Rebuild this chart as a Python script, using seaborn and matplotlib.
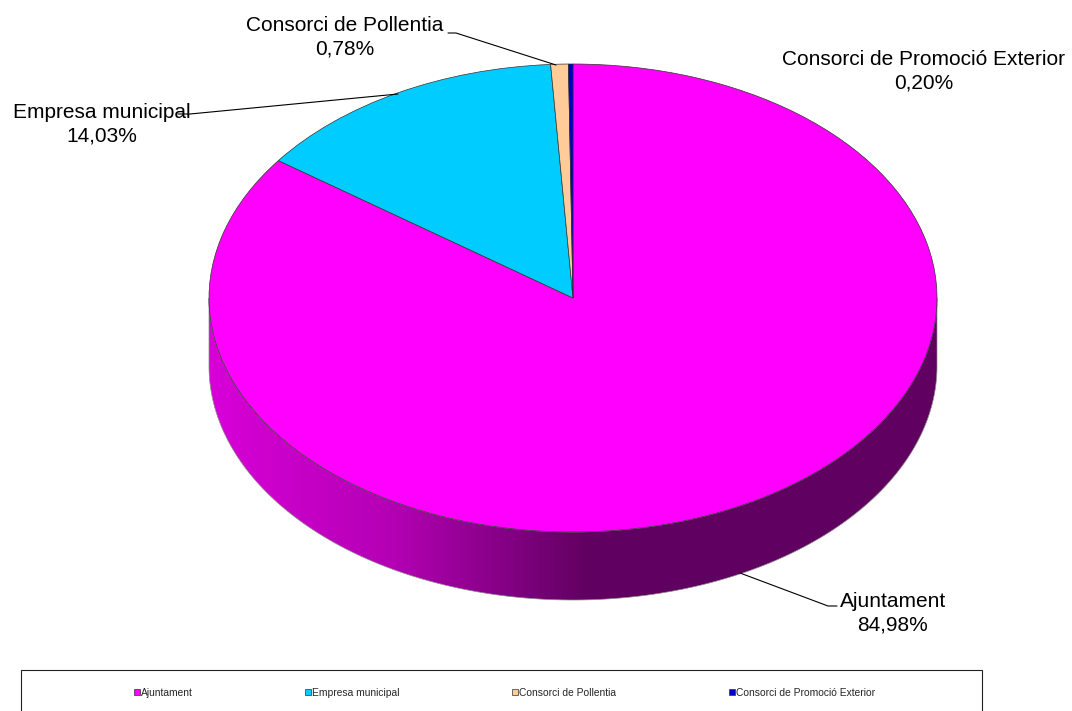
import numpy as np
import seaborn as sns
import matplotlib.pyplot as plt
from matplotlib.colors import LinearSegmentedColormap
from matplotlib.patches import Polygon, Rectangle

# data
names  = ["Ajuntament", "Empresa municipal", "Consorci de Pollentia", "Consorci de Promoció Exterior"]
values = [84.98, 14.03, 0.78, 0.20]
colors = ["#ff00ff", "#00ccff", "#ffcc99", "#0000cc"]

# pie geometry in pixels of the 1072x711 picture
CX, CY = 573, 298
RX, RY = 364, 234
DEPTH  = 68 / RY


def px(x, y):
    return (x - CX) / RX, (CY - y) / RY


sns.set_theme(style="white")
plt.rcParams["font.family"] = ["Liberation Sans", "DejaVu Sans"]

fig = plt.figure(figsize=(10.72, 7.11), dpi=100, facecolor="white")
ax = fig.add_axes([0, 0, 1, 1])

# side wall of the 3D pie, shaded left to right
theta = np.linspace(np.pi, 2 * np.pi, 300)
x_low, y_low = np.cos(theta), np.sin(theta)
wall_xy = np.r_[np.c_[x_low, y_low], np.c_[x_low[::-1], y_low[::-1] - DEPTH]]
wall = Polygon(wall_xy, closed=True, facecolor="none", edgecolor="#8a8a8a", lw=0.5, zorder=1)
ax.add_patch(wall)
shade = LinearSegmentedColormap.from_list(
    "wall", [(0, "#d800d8"), (0.25, "#b400b4"), (0.523, "#600060"), (1, "#600060")])
grad = ax.imshow(np.linspace(0, 1, 512)[None, :], cmap=shade, aspect="auto",
                 extent=(-1, 1, -1 - DEPTH, 0), zorder=0.5)
grad.set_clip_path(wall)

# top of the pie
wedges, _ = ax.pie(values, colors=colors, startangle=90, counterclock=False, radius=1,
                   wedgeprops={"edgecolor": "#333333", "linewidth": 0.5, "zorder": 2})

ax.set_aspect("auto")
ax.set_xlim(px(0, 0)[0], px(1072, 0)[0])
ax.set_ylim(px(0, 711)[1], px(0, 0)[1])
ax.axis("off")

# data labels and leader lines
label_pos = [(893, 613), (102, 124), (345, 37), (924, 71.5)]
leaders = [
    [(740, 573), (828, 606), (837, 606)],
    [(398, 94), (190, 114), (178, 114)],
    [(556, 65), (456, 33), (448, 33)],
    None,
]
for name, val, pos, line in zip(names, values, label_pos, leaders):
    txt = f"{name}\n{val:.2f}%".replace(".", ",")
    ax.text(*px(*pos), txt, ha="center", va="center", fontsize=15,
            color="black", linespacing=1.3, zorder=5)
    if line:
        pts = np.array([px(*p) for p in line])
        ax.plot(pts[:, 0], pts[:, 1], color="black", lw=0.8, zorder=4, solid_joinstyle="miter")

# legend box, runs off the bottom edge like the original
x0, y0 = px(21, 712)
x1, y1 = px(982, 669.5)
ax.add_patch(Rectangle((x0, y0), x1 - x0, y1 - y0, facecolor="white",
                       edgecolor="#222222", lw=0.8, zorder=3))
leg = ax.legend(wedges, names, ncols=4, frameon=False, loc="center left",
                bbox_to_anchor=px(134, 693), bbox_transform=ax.transData,
                fontsize=7.4, handlelength=0.55, handleheight=0.55, handletextpad=0.12,
                columnspacing=10.96, borderpad=0, borderaxespad=0)
leg.set_zorder(6)

fig.savefig("out.png", dpi=100)
